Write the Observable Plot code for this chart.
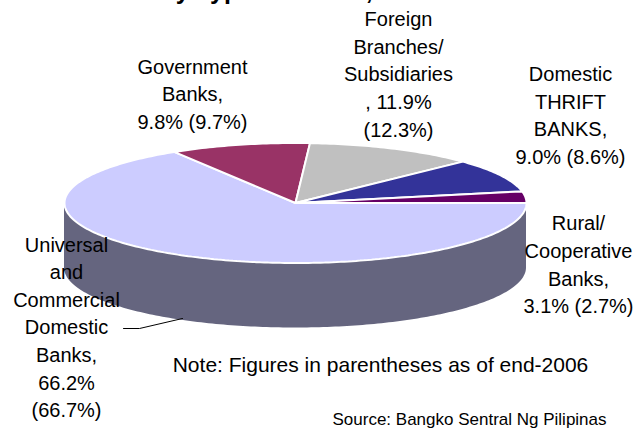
<!DOCTYPE html>
<html>
<head>
<meta charset="utf-8">
<script src="https://cdn.jsdelivr.net/npm/d3@7"></script>
<script src="https://cdn.jsdelivr.net/npm/@observablehq/plot@0.6"></script>
<style>
html,body{margin:0;padding:0;background:#fff}
svg{display:block}
</style>
</head>
<body>
<div id="chart"></div>
<script>
const categories = ["Universal and Commercial Domestic Banks","Government Banks","Foreign Branches/Subsidiaries","Domestic THRIFT BANKS","Rural/Cooperative Banks"];
const shares2007 = [66.2, 9.8, 11.9, 9.0, 3.1];
const shares2006 = [66.7, 9.7, 12.3, 8.6, 2.7];
const labelTexts = [
  "Universal\nand\nCommercial\nDomestic\nBanks,\n66.2%\n(66.7%)",
  "Government\nBanks,\n9.8% (9.7%)",
  "Foreign\nBranches/\nSubsidiaries\n, 11.9%\n(12.3%)",
  "Domestic\nTHRIFT\nBANKS,\n9.0% (8.6%)",
  "Rural/\nCooperative\nBanks,\n3.1% (2.7%)"
];
const colors = ["#CCCCFF","#993366","#C0C0C0","#333399","#660066"];
const titleText = "by Type of Banks, 2007";
const noteText = "Note: Figures in parentheses as of end-2006";
const sourceText = "Source: Bangko Sentral Ng Pilipinas";

// Pie geometry in unit-ellipse space; the x/y scales map it to the page.
const W = 636, H = 429, cx = 295, cy = 202.5, rx = 231, ry = 60, depthPx = 65;
const depth = depthPx / ry;
const STEP = 1; // degrees
function ring(a0, a1) {
  const pts = [], n = Math.max(2, Math.ceil(Math.abs(a1 - a0) / STEP));
  for (let i = 0; i <= n; i++) {
    const a = (a0 + (a1 - a0) * i / n) * Math.PI / 180;
    pts.push({x: Math.cos(a), y: Math.sin(a)});
  }
  return pts;
}
// first slice starts at 3 o'clock and runs clockwise
let cursor = 0;
const slices = shares2007.map((v, i) => {
  const a0 = cursor, a1 = cursor - v * 3.6;
  cursor = a1;
  return {i, a0, a1, name: categories[i], color: colors[i]};
});
const sliceRows = slices.flatMap(s =>
  [{x: 0, y: 0}, ...ring(s.a0, s.a1), {x: 0, y: 0}].map(p => ({...p, name: s.name, color: s.color}))
);
// side wall: lower half of the rim extruded downward
const sideRows = ring(180, 360).map(p => ({x: p.x, y1: p.y, y2: p.y - depth}));

const xScale = {domain: [-cx / rx, (W - cx) / rx], range: [0, W]};
const yScale = {domain: [cy / ry, -(H - cy) / ry], range: [0, H]};

const font = "'Liberation Sans', Arial, sans-serif";
const lh = 27.6, labelSize = 20;
function label(i, xp, yp) {
  return Plot.text([labelTexts[i]], {
    text: d => d, frameAnchor: "top-left", dx: xp, dy: yp,
    textAnchor: "middle", lineAnchor: "middle", lineHeight: lh / labelSize,
    fontSize: labelSize, fill: "#000", fontFamily: font
  });
}
// leader line from the Universal label to the pie wall
const leader = [{x:(123-cx)/rx,y:(cy-328)/ry},{x:(139-cx)/rx,y:(cy-328)/ry},{x:(182-cx)/rx,y:(cy-318)/ry}];

const chart = Plot.plot({
  width: W, height: H, margin: 0,
  x: {...xScale, axis: null},
  y: {...yScale, axis: null},
  marks: [
    Plot.areaY(sideRows, {x: "x", y1: "y1", y2: "y2", fill: "#65657F"}),
    Plot.line(sliceRows, {x: "x", y: "y", z: "name", fill: "color", stroke: "#fff", strokeWidth: 2, strokeLinejoin: "miter"}),
    Plot.line(leader, {x: "x", y: "y", stroke: "#000", strokeWidth: 1}),
    label(0, 66, 325),
    label(1, 192, 92),
    label(2, 398, 72),
    label(3, 570, 113),
    label(4, 578, 262.5),
    Plot.text([noteText], {text: d => d, frameAnchor: "top-left", dx: 380, dy: 365, textAnchor: "middle", lineAnchor: "middle", fontSize: 21, fontFamily: font, fill: "#000"}),
    Plot.text([sourceText], {text: d => d, frameAnchor: "top-left", dx: 469, dy: 419.5, textAnchor: "middle", lineAnchor: "middle", fontSize: 17, fontFamily: font, fill: "#000"}),
    Plot.text([titleText], {text: d => d, frameAnchor: "top-left", dx: 160, dy: -10, textAnchor: "start", lineAnchor: "middle", fontSize: 25, fontWeight: "bold", fontFamily: font, fill: "#000"})
  ]
});
document.getElementById("chart").append(chart);
</script>
</body>
</html>
